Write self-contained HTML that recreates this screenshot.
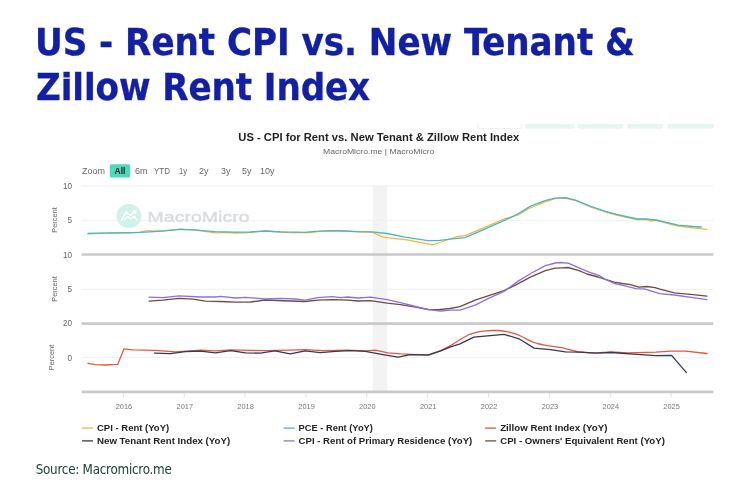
<!DOCTYPE html>
<html lang="en"><head><meta charset="utf-8"><title>US - Rent CPI vs. New Tenant &amp; Zillow Rent Index</title>
<style>
html,body{margin:0;padding:0;background:#fff}
body{width:737px;height:497px;position:relative;overflow:hidden;font-family:"DejaVu Sans Condensed","DejaVu Sans","Liberation Sans",sans-serif}
h1{position:absolute;left:35px;top:21px;margin:0;font-size:38px;line-height:45.7px;transform:scaleY(0.974);-webkit-text-stroke:0.3px #1320a3;font-weight:700;color:#1320a3;white-space:nowrap;letter-spacing:0;transform-origin:0 0}
.src{position:absolute;left:35.7px;top:460px;font-size:13.3px;line-height:20px;color:#1e4236;letter-spacing:-0.25px;white-space:nowrap;transform-origin:0 0}
</style></head><body>
<h1 id="t"><span id="l1" style="letter-spacing:-0.05px">US - Rent CPI vs. New Tenant &amp;</span><br><span id="l2" style="letter-spacing:-0.1px;margin-left:1px">Zillow Rent Index</span></h1>
<svg width="737" height="497" viewBox="0 0 737 497" style="position:absolute;left:0;top:0;filter:blur(0.35px)">
<rect x="478" y="119" width="43.5" height="9.7" rx="2" fill="#fff" stroke="#eeeeee" stroke-width="1"/>
<rect x="525.4" y="119" width="48.9" height="9.7" rx="2" fill="#e6f6f2"/>
<rect x="578" y="119" width="45.5" height="9.7" rx="2" fill="#e6f6f2"/>
<rect x="627.3" y="119" width="36.1" height="9.7" rx="2" fill="#e6f6f2"/>
<rect x="667.5" y="119" width="46.6" height="9.7" rx="2" fill="#e6f6f2"/>
<rect x="470" y="110" width="260" height="14" fill="#fff"/>
<text x="378.8" y="141" text-anchor="middle" font-family="Liberation Sans, DejaVu Sans, sans-serif" font-size="10" font-weight="700" fill="#222" textLength="281" lengthAdjust="spacingAndGlyphs">US - CPI for Rent vs. New Tenant &amp; Zillow Rent Index</text>
<text x="378.7" y="154.3" text-anchor="middle" font-family="Liberation Sans, DejaVu Sans, sans-serif" font-size="8" fill="#666" textLength="111.4" lengthAdjust="spacingAndGlyphs">MacroMicro.me | MacroMicro</text>
<rect x="109.8" y="164.3" width="20.4" height="13.3" rx="1.5" fill="#4fd9b9"/>
<text x="82" y="174" text-anchor="start" font-family="Liberation Sans, DejaVu Sans, sans-serif" font-size="8.3" font-weight="400" fill="#666" textLength="23" lengthAdjust="spacingAndGlyphs">Zoom</text>
<text x="120" y="174" text-anchor="middle" font-family="Liberation Sans, DejaVu Sans, sans-serif" font-size="8.3" font-weight="700" fill="#222" textLength="11" lengthAdjust="spacingAndGlyphs">All</text>
<text x="135" y="174" text-anchor="start" font-family="Liberation Sans, DejaVu Sans, sans-serif" font-size="8.3" font-weight="400" fill="#666" textLength="12.5" lengthAdjust="spacingAndGlyphs">6m</text>
<text x="154" y="174" text-anchor="start" font-family="Liberation Sans, DejaVu Sans, sans-serif" font-size="8.3" font-weight="400" fill="#666" textLength="16" lengthAdjust="spacingAndGlyphs">YTD</text>
<text x="179" y="174" text-anchor="start" font-family="Liberation Sans, DejaVu Sans, sans-serif" font-size="8.3" font-weight="400" fill="#666" textLength="8" lengthAdjust="spacingAndGlyphs">1y</text>
<text x="199" y="174" text-anchor="start" font-family="Liberation Sans, DejaVu Sans, sans-serif" font-size="8.3" font-weight="400" fill="#666" textLength="9.5" lengthAdjust="spacingAndGlyphs">2y</text>
<text x="221" y="174" text-anchor="start" font-family="Liberation Sans, DejaVu Sans, sans-serif" font-size="8.3" font-weight="400" fill="#666" textLength="9.5" lengthAdjust="spacingAndGlyphs">3y</text>
<text x="242" y="174" text-anchor="start" font-family="Liberation Sans, DejaVu Sans, sans-serif" font-size="8.3" font-weight="400" fill="#666" textLength="9.5" lengthAdjust="spacingAndGlyphs">5y</text>
<text x="260" y="174" text-anchor="start" font-family="Liberation Sans, DejaVu Sans, sans-serif" font-size="8.3" font-weight="400" fill="#666" textLength="14.5" lengthAdjust="spacingAndGlyphs">10y</text>
<rect x="372.7" y="186" width="14.6" height="205" fill="#f3f3f3"/>
<line x1="81.6" x2="713.2" y1="186" y2="186" stroke="#efefef" stroke-width="1"/>
<line x1="81.6" x2="713.2" y1="220.3" y2="220.3" stroke="#efefef" stroke-width="1"/>
<line x1="81.6" x2="713.2" y1="289.3" y2="289.3" stroke="#efefef" stroke-width="1"/>
<line x1="81.6" x2="713.2" y1="357.6" y2="357.6" stroke="#f0f0f0" stroke-width="1"/>
<line x1="81.6" x2="713.2" y1="254.5" y2="254.5" stroke="#c9c9c9" stroke-width="2.6"/>
<line x1="81.6" x2="713.2" y1="323.6" y2="323.6" stroke="#c9c9c9" stroke-width="2.6"/>
<line x1="81.6" x2="713.2" y1="391.9" y2="391.9" stroke="#c9c9c9" stroke-width="2.6"/>
<line x1="123.4" x2="123.4" y1="393" y2="397.5" stroke="#e2e2e2" stroke-width="1"/>
<text x="123.9" y="408.6" text-anchor="middle" font-family="Liberation Sans, DejaVu Sans, sans-serif" font-size="8" font-weight="400" fill="#777" textLength="16.5" lengthAdjust="spacingAndGlyphs">2016</text>
<line x1="184.3" x2="184.3" y1="393" y2="397.5" stroke="#e2e2e2" stroke-width="1"/>
<text x="184.8" y="408.6" text-anchor="middle" font-family="Liberation Sans, DejaVu Sans, sans-serif" font-size="8" font-weight="400" fill="#777" textLength="16.5" lengthAdjust="spacingAndGlyphs">2017</text>
<line x1="245.1" x2="245.1" y1="393" y2="397.5" stroke="#e2e2e2" stroke-width="1"/>
<text x="245.6" y="408.6" text-anchor="middle" font-family="Liberation Sans, DejaVu Sans, sans-serif" font-size="8" font-weight="400" fill="#777" textLength="16.5" lengthAdjust="spacingAndGlyphs">2018</text>
<line x1="306.0" x2="306.0" y1="393" y2="397.5" stroke="#e2e2e2" stroke-width="1"/>
<text x="306.5" y="408.6" text-anchor="middle" font-family="Liberation Sans, DejaVu Sans, sans-serif" font-size="8" font-weight="400" fill="#777" textLength="16.5" lengthAdjust="spacingAndGlyphs">2019</text>
<line x1="366.8" x2="366.8" y1="393" y2="397.5" stroke="#e2e2e2" stroke-width="1"/>
<text x="367.3" y="408.6" text-anchor="middle" font-family="Liberation Sans, DejaVu Sans, sans-serif" font-size="8" font-weight="400" fill="#777" textLength="16.5" lengthAdjust="spacingAndGlyphs">2020</text>
<line x1="427.7" x2="427.7" y1="393" y2="397.5" stroke="#e2e2e2" stroke-width="1"/>
<text x="428.2" y="408.6" text-anchor="middle" font-family="Liberation Sans, DejaVu Sans, sans-serif" font-size="8" font-weight="400" fill="#777" textLength="16.5" lengthAdjust="spacingAndGlyphs">2021</text>
<line x1="488.6" x2="488.6" y1="393" y2="397.5" stroke="#e2e2e2" stroke-width="1"/>
<text x="489.1" y="408.6" text-anchor="middle" font-family="Liberation Sans, DejaVu Sans, sans-serif" font-size="8" font-weight="400" fill="#777" textLength="16.5" lengthAdjust="spacingAndGlyphs">2022</text>
<line x1="549.4" x2="549.4" y1="393" y2="397.5" stroke="#e2e2e2" stroke-width="1"/>
<text x="549.9" y="408.6" text-anchor="middle" font-family="Liberation Sans, DejaVu Sans, sans-serif" font-size="8" font-weight="400" fill="#777" textLength="16.5" lengthAdjust="spacingAndGlyphs">2023</text>
<line x1="610.3" x2="610.3" y1="393" y2="397.5" stroke="#e2e2e2" stroke-width="1"/>
<text x="610.8" y="408.6" text-anchor="middle" font-family="Liberation Sans, DejaVu Sans, sans-serif" font-size="8" font-weight="400" fill="#777" textLength="16.5" lengthAdjust="spacingAndGlyphs">2024</text>
<line x1="671.1" x2="671.1" y1="393" y2="397.5" stroke="#e2e2e2" stroke-width="1"/>
<text x="671.6" y="408.6" text-anchor="middle" font-family="Liberation Sans, DejaVu Sans, sans-serif" font-size="8" font-weight="400" fill="#777" textLength="16.5" lengthAdjust="spacingAndGlyphs">2025</text>
<text x="72" y="189.0" text-anchor="end" font-family="Liberation Sans, DejaVu Sans, sans-serif" font-size="8.2" font-weight="400" fill="#666">10</text>
<text x="72" y="223.0" text-anchor="end" font-family="Liberation Sans, DejaVu Sans, sans-serif" font-size="8.2" font-weight="400" fill="#666">5</text>
<text x="72" y="257.5" text-anchor="end" font-family="Liberation Sans, DejaVu Sans, sans-serif" font-size="8.2" font-weight="400" fill="#666">10</text>
<text x="72" y="292.3" text-anchor="end" font-family="Liberation Sans, DejaVu Sans, sans-serif" font-size="8.2" font-weight="400" fill="#666">5</text>
<text x="72" y="326.4" text-anchor="end" font-family="Liberation Sans, DejaVu Sans, sans-serif" font-size="8.2" font-weight="400" fill="#666">20</text>
<text x="72" y="360.6" text-anchor="end" font-family="Liberation Sans, DejaVu Sans, sans-serif" font-size="8.2" font-weight="400" fill="#666">0</text>
<text transform="translate(57,220) rotate(-90)" text-anchor="middle" font-family="Liberation Sans, DejaVu Sans, sans-serif" font-size="8" fill="#666" textLength="25.5" lengthAdjust="spacingAndGlyphs">Percent</text>
<text transform="translate(57,289) rotate(-90)" text-anchor="middle" font-family="Liberation Sans, DejaVu Sans, sans-serif" font-size="8" fill="#666" textLength="25.5" lengthAdjust="spacingAndGlyphs">Percent</text>
<text transform="translate(54,357.5) rotate(-90)" text-anchor="middle" font-family="Liberation Sans, DejaVu Sans, sans-serif" font-size="8" fill="#666" textLength="25.5" lengthAdjust="spacingAndGlyphs">Percent</text>
<g opacity="1">
<ellipse cx="128.9" cy="216" rx="12.5" ry="11.9" fill="#cdf1e8" fill-opacity="0.92"/>
<path d="M121.4 220.4 L126.3 211.9 L130 215.6 L135.2 211.2 M133.2 210.6 L135.8 210.7 L135.6 213.2" fill="none" stroke="#fff" stroke-width="1.5" stroke-linecap="round" stroke-linejoin="round"/>
<path d="M124.3 220.2 L127.5 216.4 L130.4 218.9 L134.4 216.3 L136.9 220.2" fill="none" stroke="#fff" stroke-width="1.2" stroke-linecap="round" stroke-linejoin="round"/>
<text x="147.6" y="222" font-family="Liberation Sans, DejaVu Sans, sans-serif" font-size="15" font-weight="400" fill="#d9dce1" stroke="#d9dce1" stroke-width="0.4" textLength="102" lengthAdjust="spacingAndGlyphs">MacroMicro</text>
</g>
<polyline points="88.0,233.7 100.0,233.3 115.0,233.0 130.0,232.8 140.0,232.2 148.0,230.6 155.0,231.2 165.0,230.6 180.0,229.2 195.0,230.2 205.0,231.4 215.0,232.8 225.0,232.4 235.0,233.0 250.0,232.6 258.0,231.6 265.0,231.0 280.0,232.0 290.0,232.6 300.0,232.4 310.0,232.6 320.0,231.4 332.0,230.8 345.0,231.2 358.0,231.8 372.0,232.0 383.0,237.2 395.0,238.6 405.5,239.7 420.0,242.4 432.7,244.8 440.0,242.5 450.0,239.0 458.0,236.4 465.0,235.6 482.6,228.4 505.0,218.6 512.0,216.8 518.0,215.0 530.0,208.0 545.0,202.0 555.0,198.6 565.5,198.0 575.5,200.5 590.6,206.8 605.6,212.0 616.7,215.0 637.0,219.6 646.0,219.4 650.0,221.0 656.0,220.4 678.0,226.0 693.0,227.8 706.9,229.4" fill="none" stroke="#f2b544" stroke-width="1.3" stroke-linejoin="round" stroke-linecap="round"/>
<polyline points="88.0,233.5 100.0,233.2 115.0,232.8 130.0,232.6 140.0,232.4 150.0,231.8 165.0,230.8 180.0,229.3 195.0,229.8 205.0,230.8 215.0,231.6 225.0,231.8 235.0,232.2 250.0,232.0 265.0,231.0 280.0,231.8 295.0,232.2 305.0,232.4 315.0,231.4 332.0,230.6 345.0,231.0 358.0,231.6 372.0,231.8 387.0,233.5 405.0,237.2 428.0,240.7 438.0,240.7 450.0,239.2 465.0,237.7 482.6,230.2 505.0,220.2 518.0,213.9 530.0,206.4 545.0,200.6 555.0,198.1 565.5,197.6 575.5,200.1 590.6,206.4 605.6,211.4 616.7,214.4 637.0,219.0 646.0,218.8 656.0,220.0 678.0,225.2 693.0,226.5 701.3,227.0" fill="none" stroke="#4ab8c1" stroke-width="1.3" stroke-linejoin="round" stroke-linecap="round"/>
<polyline points="149.0,301.2 162.8,300.2 179.1,298.4 193.0,299.2 205.5,301.2 220.5,301.5 235.6,302.2 250.7,302.0 265.0,300.0 290.0,301.0 305.2,301.5 317.7,300.2 332.8,299.7 347.8,300.2 357.9,301.0 370.4,300.7 387.2,303.2 400.5,304.7 415.6,307.2 428.2,309.5 438.2,309.7 450.0,308.5 460.0,306.7 475.1,300.2 490.2,295.2 504.0,290.7 517.8,283.9 530.3,277.1 545.4,270.6 555.4,268.1 562.0,267.8 568.1,267.5 579.0,270.6 587.1,274.0 598.0,277.0 606.1,279.7 614.3,282.1 622.4,283.5 630.6,284.6 638.7,287.2 646.8,286.5 655.0,287.6 660.0,289.2 674.3,292.8 693.0,294.6 706.9,296.1" fill="none" stroke="#6d4c41" stroke-width="1.3" stroke-linejoin="round" stroke-linecap="round"/>
<polyline points="149.0,297.2 162.8,297.7 179.1,295.9 200.5,297.0 215.5,297.0 220.5,296.4 235.6,298.0 245.7,297.4 255.7,298.2 265.0,299.0 280.0,298.4 295.1,299.0 305.2,300.2 317.7,297.7 332.8,296.7 340.3,297.7 347.8,297.0 357.9,298.0 370.4,297.2 387.2,299.7 400.5,302.7 415.6,306.5 428.2,309.7 440.7,311.0 450.0,310.2 460.0,310.2 475.1,305.2 490.2,297.7 504.0,291.4 517.8,281.4 530.3,273.8 545.4,265.6 555.4,263.0 560.0,262.5 568.1,263.1 579.0,267.9 589.9,272.4 599.3,275.6 606.1,279.7 614.3,283.5 625.1,285.9 636.0,288.6 644.1,288.9 660.0,293.7 674.3,295.0 693.0,297.6 706.9,299.6" fill="none" stroke="#8d70e0" stroke-width="1.3" stroke-linejoin="round" stroke-linecap="round"/>
<polyline points="88.0,363.4 95.0,364.7 105.1,365.0 117.7,364.4 123.9,348.9 132.7,349.9 155.3,350.4 175.4,351.9 200.5,350.1 215.5,350.9 230.6,349.9 250.7,350.4 265.0,350.6 290.1,350.1 305.2,349.6 322.7,350.6 347.8,350.1 365.4,350.9 375.4,350.1 388.0,352.9 400.5,353.9 410.6,354.4 428.2,354.9 440.7,350.6 449.3,346.4 454.0,343.5 459.0,340.3 464.0,337.3 468.9,334.7 476.2,332.3 481.0,331.4 486.0,330.8 492.0,330.5 498.2,330.5 503.0,331.0 507.9,331.8 513.0,333.1 517.7,334.7 522.5,337.0 527.5,339.6 532.5,341.8 537.2,343.5 547.0,345.7 561.7,347.6 571.4,350.1 578.8,352.0 591.0,352.8 600.0,352.6 611.2,352.0 627.9,352.9 655.8,352.2 670.6,351.2 685.5,351.2 706.9,353.5" fill="none" stroke="#e8563c" stroke-width="1.3" stroke-linejoin="round" stroke-linecap="round"/>
<polyline points="154.5,353.1 170.4,353.6 185.4,351.6 200.5,351.1 215.5,352.9 230.6,350.6 245.7,352.9 260.7,353.1 265.0,352.4 275.0,350.9 290.1,353.9 305.2,350.9 320.2,352.6 335.3,351.4 350.3,350.6 365.4,351.4 383.0,354.6 398.0,357.1 410.6,354.6 428.2,355.1 440.7,350.9 450.0,347.1 460.0,343.8 473.8,337.1 487.6,335.8 504.0,334.3 519.0,338.8 534.1,348.1 550.4,349.6 565.5,351.9 580.5,352.1 595.6,353.1 611.2,352.5 637.2,354.4 655.8,355.7 671.6,355.3 686.4,372.6" fill="none" stroke="#343a50" stroke-width="1.3" stroke-linejoin="round" stroke-linecap="round"/>
<line x1="82" x2="93" y1="428.1" y2="428.1" stroke="#f2b544" stroke-width="1.3"/>
<text x="97" y="430.90000000000003" text-anchor="start" font-family="Liberation Sans, DejaVu Sans, sans-serif" font-size="8.8" font-weight="700" fill="#222" textLength="72.2" lengthAdjust="spacingAndGlyphs">CPI - Rent (YoY)</text>
<line x1="82" x2="93" y1="440.9" y2="440.9" stroke="#343a50" stroke-width="1.3"/>
<text x="97" y="443.7" text-anchor="start" font-family="Liberation Sans, DejaVu Sans, sans-serif" font-size="8.8" font-weight="700" fill="#222" textLength="133.2" lengthAdjust="spacingAndGlyphs">New Tenant Rent Index (YoY)</text>
<line x1="283.6" x2="294.6" y1="428.1" y2="428.1" stroke="#4ab8c1" stroke-width="1.3"/>
<text x="298.6" y="430.90000000000003" text-anchor="start" font-family="Liberation Sans, DejaVu Sans, sans-serif" font-size="8.8" font-weight="700" fill="#222" textLength="74.3" lengthAdjust="spacingAndGlyphs">PCE - Rent (YoY)</text>
<line x1="283.6" x2="294.6" y1="440.9" y2="440.9" stroke="#8d70e0" stroke-width="1.3"/>
<text x="298.6" y="443.7" text-anchor="start" font-family="Liberation Sans, DejaVu Sans, sans-serif" font-size="8.8" font-weight="700" fill="#222" textLength="173.7" lengthAdjust="spacingAndGlyphs">CPI - Rent of Primary Residence (YoY)</text>
<line x1="485.2" x2="496.2" y1="428.1" y2="428.1" stroke="#e8563c" stroke-width="1.3"/>
<text x="500.2" y="430.90000000000003" text-anchor="start" font-family="Liberation Sans, DejaVu Sans, sans-serif" font-size="8.8" font-weight="700" fill="#222" textLength="107.2" lengthAdjust="spacingAndGlyphs">Zillow Rent Index (YoY)</text>
<line x1="485.2" x2="496.2" y1="440.9" y2="440.9" stroke="#6d4c41" stroke-width="1.3"/>
<text x="500.2" y="443.7" text-anchor="start" font-family="Liberation Sans, DejaVu Sans, sans-serif" font-size="8.8" font-weight="700" fill="#222" textLength="164.7" lengthAdjust="spacingAndGlyphs">CPI - Owners' Equivalent Rent (YoY)</text>
</svg>
<div class="src" id="s">Source: Macromicro.me</div>
</body></html>
